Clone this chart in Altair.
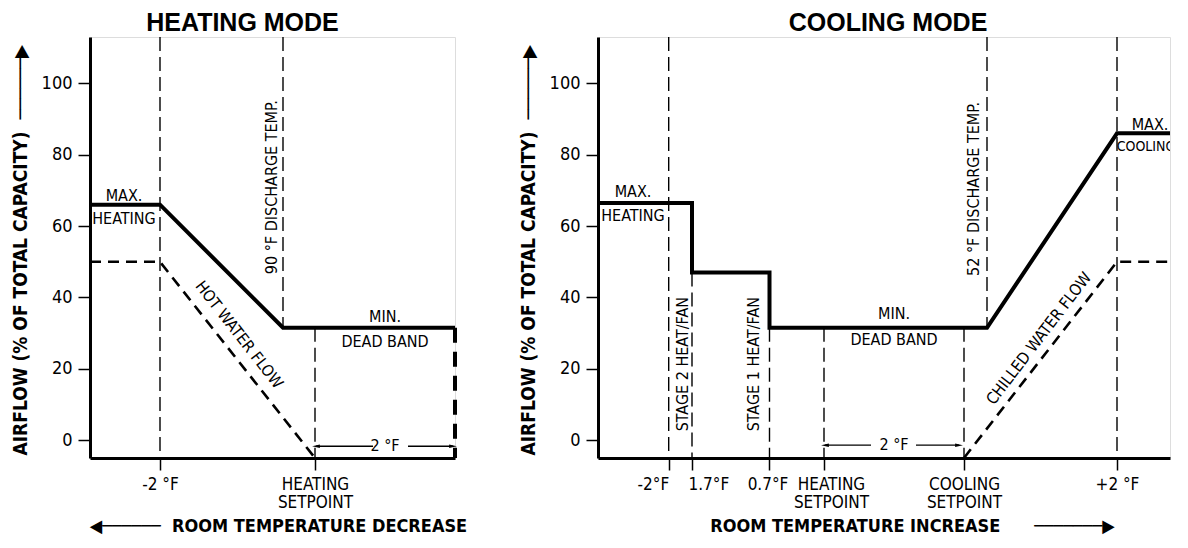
import json
import altair as alt
import pandas as pd

FONT = "'DejaVu Sans Condensed', 'Liberation Sans Narrow', 'Arial Narrow', sans-serif"
TITLE_FONT = "'Liberation Sans', Arial, sans-serif"

Y_MIN, Y_MAX = -5, 113
Y_TICKS = [0, 20, 40, 60, 80, 100]
Y_TITLE = "AIRFLOW (% OF TOTAL CAPACITY)\u00a0\u00a0" + "\u2500" * 6 + "\u25b6"

# ---------------- Heating mode ----------------
H_XMAX = 36.5
H_AIR_X = [0, 7.0, 19.3, 36.5]
H_AIR_Y = [66, 66, 31.5, 31.5]
H_WATER_X = [0, 7.0, 22.5]
H_WATER_Y = [50, 50, -5]
H_GUIDE_X = [7.0, 19.3, 22.5]
H_GUIDE_TOP = [113, 113, 31.5]
H_GUIDE_BOT = [-5, 31.5, -5]
H_BAND_X = [36.5]
H_BAND_TOP = [31.5]
H_BAND_BOT = [-5]
H_TICK_X = [7.0, 22.5]
H_TICK_LABELS = ["-2 °F", "HEATING|SETPOINT"]
H_TICK_ALIGN = ["center", "center"]
H_TICK_SHIFT = [0, 0]
H_TEXT = ["MAX.", "HEATING", "90 °F DISCHARGE TEMP.", "HOT WATER FLOW", "MIN.", "DEAD BAND", "2 °F"]
H_TEXT_X = [3.4, 3.4, 18.2, 14.9, 29.5, 29.5, 29.5]
H_TEXT_Y = [68.4, 62.1, 70.9, 29.5, 34.5, 27.6, -1.7]
H_TEXT_ANGLE = [0, 0, 270, 52, 0, 0, 0]
H_TEXT_SIZE = [16, 16, 16, 16, 16, 16, 16]
H_SPAN_X = [22.6, 31.8]
H_SPAN_X2 = [28.3, 36.3]
H_SPAN_Y = -1.7
H_HEAD_X = [22.6, 36.3]
H_HEAD_DIR = ["left", "right"]
H_XTITLE = "\u25c0" + "\u2500" * 6 + "\u00a0\u00a0ROOM TEMPERATURE DECREASE"

# ---------------- Cooling mode ----------------
C_XMAX = 57.2
C_AIR_X = [0, 9.4, 9.4, 17.15, 17.15, 38.9, 51.9, 57.2]
C_AIR_Y = [66.5, 66.5, 47, 47, 31.5, 31.5, 86, 86]
C_WATER_X = [36.6, 51.9, 57.2]
C_WATER_Y = [-5, 50, 50]
C_GUIDE_X = [7.07, 9.4, 17.15, 22.6, 36.6, 38.9, 51.9]
C_GUIDE_TOP = [113, 47, 31.5, 31.5, 31.5, 113, 113]
C_GUIDE_BOT = [-5, -5, -5, -5, -5, 31.5, -5]
C_TICK_X = [7.07, 9.4, 17.15, 22.6, 36.6, 51.9]
C_TICK_LABELS = ["-2°F", "1.7°F", "0.7°F", "HEATING|SETPOINT", "COOLING|SETPOINT", "+2 °F"]
C_TICK_ALIGN = ["right", "left", "center", "center", "center", "center"]
C_TICK_SHIFT = [0, -4, -2, 7, 0, 0]
C_TEXT = ["MAX.", "HEATING", "STAGE 2 HEAT/FAN", "STAGE 1 HEAT/FAN", "MIN.", "DEAD BAND",
          "2 °F", "52 °F DISCHARGE TEMP.", "MAX.", "COOLING", "CHILLED WATER FLOW"]
C_TEXT_X = [3.5, 3.5, 8.5, 15.6, 29.6, 29.6, 29.6, 37.6, 55.2, 54.8, 44.1]
C_TEXT_Y = [69.6, 62.9, 21.3, 21.3, 35.3, 28.2, -1.4, 70.4, 88.3, 82.2, 28.5]
C_TEXT_ANGLE = [0, 0, 270, 270, 0, 0, 0, 270, 0, 0, 307.4]
C_TEXT_SIZE = [16, 16, 16, 16, 16, 16, 16, 16, 16, 14, 16]
C_SPAN_X = [22.7, 31.8]
C_SPAN_X2 = [27.3, 36.1]
C_SPAN_Y = -1.4
C_HEAD_X = [22.7, 36.1]
C_HEAD_DIR = ["left", "right"]
C_XTITLE = "ROOM TEMPERATURE INCREASE" + "\u00a0" * 6 + "\u2500" * 7 + "\u25b6"

PLOT_H = 421
H_W = 365
C_W = 572

HEAD_SHAPES = {"left": "M-1,0L1,-0.45L1,0.45Z", "right": "M1,0L-1,-0.45L-1,0.45Z"}


def label_expr(vals, labels):
    parts = []
    for v, lab in zip(vals, labels):
        parts.append(f"abs(datum.value - {v}) < 0.001 ? {json.dumps(lab.split('|'))}")
    return " : ".join(parts) + " : ''"


def cond_prop(vals, props, default):
    conds = []
    for v, p in zip(vals, props):
        if p != default:
            conds.append({"test": f"abs(datum.value - {v}) < 0.001", "value": p})
    if not conds:
        return default
    return {"condition": conds, "value": default}


def panel(title, title_dx, xmax, width, air_x, air_y, wat_x, wat_y,
          g_x, g_top, g_bot, tick_x, tick_labels, tick_align, tick_shift,
          txt, txt_x, txt_y, txt_ang, txt_size, span_x, span_x2, span_y, head_x, head_dir,
          xtitle, xtitle_x, band=None):
    xs = alt.Scale(domain=[0, xmax], nice=False, zero=False)
    ys = alt.Scale(domain=[Y_MIN, Y_MAX], nice=False, zero=False)

    x_axis = alt.Axis(
        values=tick_x, labelExpr=label_expr(tick_x, tick_labels), grid=False,
        tickSize=12, tickWidth=1.5, tickColor="black", domainWidth=3, domainColor="black",
        labelFont=FONT, labelFontSize=17, labelColor="black", labelPadding=6,
        labelLineHeight=18, labelBaseline="top", labelOverlap=False, labelFlush=False,
        labelBound=False, labelAlign=cond_prop(tick_x, tick_align, "center"),
        labelOffset=cond_prop(tick_x, tick_shift, 0),
        title=xtitle, titleFont=FONT, titleFontSize=18, titleFontWeight="bold",
        titleColor="black", titleX=xtitle_x, titleY=68, titleAlign="center",
        titleBaseline="middle", titleAnchor="start")
    y_axis = alt.Axis(
        values=Y_TICKS, grid=False, tickSize=12, tickWidth=1.5, tickColor="black",
        domainWidth=3, domainColor="black", labelFont=FONT, labelFontSize=18,
        labelColor="black", labelPadding=6,
        title=Y_TITLE, titleFont=FONT, titleFontSize=19, titleFontWeight="bold",
        titleColor="black", titleX=-70, titleY=PLOT_H - 3, titleAlign="left",
        titleAngle=270, titleBaseline="middle", titleAnchor="start")

    base_x = alt.X("x:Q", scale=xs, axis=x_axis)
    base_y = alt.Y("y:Q", scale=ys, axis=y_axis)

    guides = alt.Chart(pd.DataFrame({"x": g_x, "y": g_top, "y2": g_bot})).mark_rule(
        color="black", strokeWidth=1.4, strokeDash=[14, 6]
    ).encode(x=base_x, y=base_y, y2="y2:Q")

    air = alt.Chart(pd.DataFrame({"x": air_x, "y": air_y, "i": list(range(len(air_x)))})).mark_line(
        color="black", strokeWidth=4, strokeJoin="miter"
    ).encode(x="x:Q", y="y:Q", order="i:Q")

    water = alt.Chart(pd.DataFrame({"x": wat_x, "y": wat_y, "i": list(range(len(wat_x)))})).mark_line(
        color="black", strokeWidth=2.6, strokeDash=[11, 7]
    ).encode(x="x:Q", y="y:Q", order="i:Q")

    texts = alt.Chart(pd.DataFrame({"x": txt_x, "y": txt_y, "t": txt, "a": txt_ang, "s": txt_size})).mark_text(
        font=FONT, color="black", baseline="middle", align="center", clip=True
    ).encode(x="x:Q", y="y:Q", text="t:N", angle=alt.Angle("a:Q", scale=None),
             size=alt.Size("s:Q", scale=None))

    spans = alt.Chart(pd.DataFrame({"x": span_x, "x2": span_x2, "y": [span_y] * len(span_x)})).mark_rule(
        color="black", strokeWidth=1.4
    ).encode(x="x:Q", x2="x2:Q", y="y:Q")

    layers = [guides, water, air, texts, spans]
    for hx, hd in zip(head_x, head_dir):
        head = alt.Chart(pd.DataFrame({"x": [hx], "y": [span_y]})).mark_point(
            shape=HEAD_SHAPES[hd], filled=True, color="black", opacity=1, size=60, strokeWidth=0,
            dx=4 if hd == "left" else -4
        ).encode(x="x:Q", y="y:Q")
        layers.append(head)

    if band is not None:
        bx, bt, bb = band
        band_chart = alt.Chart(pd.DataFrame({"x": bx, "y": bt, "y2": bb})).mark_rule(
            color="black", strokeWidth=4, strokeDash=[15, 9]
        ).encode(x="x:Q", y="y:Q", y2="y2:Q")
        layers.append(band_chart)

    return alt.layer(*layers).properties(
        width=width, height=PLOT_H,
        title=alt.TitleParams(title, font=TITLE_FONT, fontSize=25, fontWeight="bold",
                              color="black", anchor="middle", dx=title_dx, offset=0,
                              frame="group")
    )


left = panel("HEATING MODE", -30, H_XMAX, H_W, H_AIR_X, H_AIR_Y, H_WATER_X, H_WATER_Y,
             H_GUIDE_X, H_GUIDE_TOP, H_GUIDE_BOT, H_TICK_X, H_TICK_LABELS, H_TICK_ALIGN, H_TICK_SHIFT,
             H_TEXT, H_TEXT_X, H_TEXT_Y, H_TEXT_ANGLE, H_TEXT_SIZE, H_SPAN_X, H_SPAN_X2, H_SPAN_Y,
             H_HEAD_X, H_HEAD_DIR, H_XTITLE, 188,
             band=(H_BAND_X, H_BAND_TOP, H_BAND_BOT))

right = panel("COOLING MODE", 4, C_XMAX, C_W, C_AIR_X, C_AIR_Y, C_WATER_X, C_WATER_Y,
              C_GUIDE_X, C_GUIDE_TOP, C_GUIDE_BOT, C_TICK_X, C_TICK_LABELS, C_TICK_ALIGN, C_TICK_SHIFT,
              C_TEXT, C_TEXT_X, C_TEXT_Y, C_TEXT_ANGLE, C_TEXT_SIZE, C_SPAN_X, C_SPAN_X2, C_SPAN_Y,
              C_HEAD_X, C_HEAD_DIR, C_XTITLE, 314)

chart = alt.hconcat(left, right, spacing=143, bounds="flush").properties(
    padding={"left": 2, "top": 2, "right": 0, "bottom": 0}
).configure_view(stroke=None).configure(background="white")

chart.save("out.html", embed_options={"renderer": "svg", "actions": False})
